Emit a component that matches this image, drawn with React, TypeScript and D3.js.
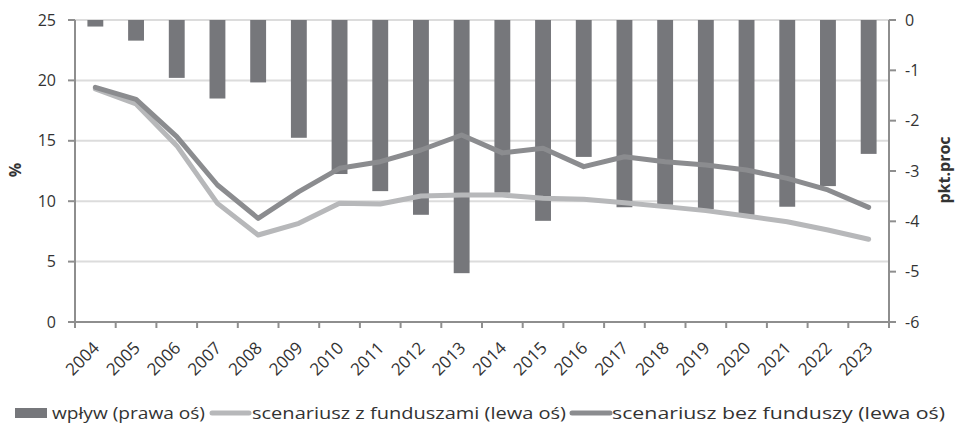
import React from "react";
import * as d3 from "d3";

const years = ["2004","2005","2006","2007","2008","2009","2010","2011","2012","2013","2014","2015","2016","2017","2018","2019","2020","2021","2022","2023"];
const impact = [-0.13,-0.41,-1.15,-1.56,-1.24,-2.34,-3.06,-3.4,-3.87,-5.03,-3.43,-3.99,-2.72,-3.72,-3.67,-3.76,-3.87,-3.71,-3.3,-2.66];
const withFunds = [19.3,18.05,14.6,9.82,7.2,8.17,9.83,9.77,10.43,10.51,10.51,10.24,10.16,9.88,9.55,9.22,8.77,8.3,7.62,6.85];
const withoutFunds = [19.43,18.43,15.34,11.34,8.58,10.79,12.72,13.27,14.24,15.48,14.0,14.38,12.86,13.68,13.27,13.0,12.58,11.89,10.93,9.49];
const leftTicks = [0,5,10,15,20,25];
const rightTicks = [0,-1,-2,-3,-4,-5,-6];
const legendLabels = ["wpływ (prawa oś)","scenariusz z funduszami (lewa oś)","scenariusz bez funduszy (lewa oś)"];

const W = 956, H = 431;
const L = 75, R = 889, T = 20, B = 322;
const BAR = "#76777b", DARK = "#8b8c8f", LIGHT = "#b7b8ba", AXIS = "#8e8e8e", GRID = "#dcdcdc", TXT = "#333";
const FONT = "'Open Sans', 'DejaVu Sans', sans-serif";

export default function App() {
  const x = d3.scaleBand().domain(years).range([L, R]).padding(0);
  const yL = d3.scaleLinear().domain([0, 25]).range([B, T]);
  const yR = d3.scaleLinear().domain([-6, 0]).range([B, T]);
  const bw = x.bandwidth() * 0.39;
  const cx = (y: string) => (x(y) as number) + x.bandwidth() / 2;
  const line = d3.line<number>().x((_, i) => cx(years[i])).y((d) => yL(d));
  const boundaries = years.map((y) => x(y) as number).concat([R]);

  const legendItems = [
    { type: "bar", sx: 15, sw: 32, tx: 52, tw: 153 },
    { type: "light", sx: 212, sw: 37, tx: 252, tw: 314 },
    { type: "dark", sx: 572, sw: 38, tx: 612, tw: 333 },
  ];

  return (
    <svg width={W} height={H} style={{ position: "absolute", left: 0, top: 0, background: "#fff" }} fontFamily={FONT}>
      <rect x={0} y={0} width={W} height={H} fill="#fff" />
      {leftTicks.map((t) => (
        <line key={"g" + t} x1={L} x2={R} y1={yL(t)} y2={yL(t)} stroke={GRID} strokeWidth={2} />
      ))}
      {impact.map((v, i) => (
        <rect key={"b" + i} x={cx(years[i]) - bw / 2} y={yR(0)} width={bw} height={yR(v) - yR(0)} fill={BAR} />
      ))}
      <path d={line(withFunds) || ""} fill="none" stroke={LIGHT} strokeWidth={5} strokeLinejoin="round" strokeLinecap="round" />
      <path d={line(withoutFunds) || ""} fill="none" stroke={DARK} strokeWidth={5} strokeLinejoin="round" strokeLinecap="round" />
      {/* left axis */}
      <line x1={L} x2={L} y1={T} y2={B} stroke={AXIS} strokeWidth={2} />
      {leftTicks.map((t) => (
        <g key={"lt" + t}>
          <line x1={L - 7} x2={L} y1={yL(t)} y2={yL(t)} stroke={AXIS} strokeWidth={2} />
          <text x={56} y={yL(t)} dy="0.35em" textAnchor="end" fontSize={16} fill={TXT}>{t}</text>
        </g>
      ))}
      {/* right axis */}
      <line x1={R} x2={R} y1={T} y2={B} stroke={AXIS} strokeWidth={2} />
      {rightTicks.map((t) => (
        <g key={"rt" + t}>
          <line x1={R} x2={R + 7} y1={yR(t)} y2={yR(t)} stroke={AXIS} strokeWidth={2} />
          <text x={905} y={yR(t)} dy="0.35em" textAnchor="start" fontSize={16} fill={TXT}>{t}</text>
        </g>
      ))}
      {/* x axis */}
      <line x1={L} x2={R} y1={B} y2={B} stroke={AXIS} strokeWidth={2} />
      {boundaries.map((b, i) => (
        <line key={"xt" + i} x1={b} x2={b} y1={B} y2={B + 6} stroke={AXIS} strokeWidth={2} />
      ))}
      {years.map((y) => (
        <text key={"xl" + y} transform={`translate(${cx(y) + 5},${349}) rotate(-45)`} textAnchor="end" fontSize={17} fill={TXT}>{y}</text>
      ))}
      <text transform={`translate(21,170) rotate(-90)`} textAnchor="middle" fontSize={16} fontWeight="bold" fill={TXT}>%</text>
      <text transform={`translate(950,170) rotate(-90)`} textAnchor="middle" fontSize={16} fontWeight="bold" fill={TXT}>pkt.proc</text>
      {/* legend */}
      {legendItems.map((it, i) => (
        <g key={"lg" + i}>
          {it.type === "bar" ? (
            <rect x={it.sx} y={408} width={it.sw} height={10} fill={BAR} />
          ) : (
            <line x1={it.sx} x2={it.sx + it.sw} y1={413} y2={413} stroke={it.type === "light" ? LIGHT : DARK} strokeWidth={5} strokeLinecap="round" />
          )}
          <text x={it.tx} y={419} fontSize={16} fill={TXT} textLength={it.tw} lengthAdjust="spacingAndGlyphs">{legendLabels[i]}</text>
        </g>
      ))}
    </svg>
  );
}
